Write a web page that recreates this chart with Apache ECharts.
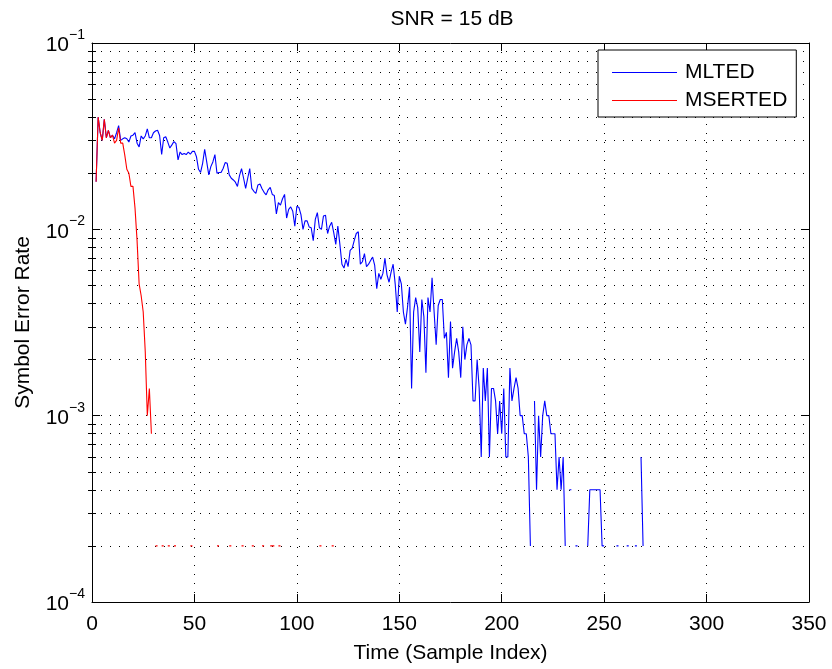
<!DOCTYPE html>
<html><head><meta charset="utf-8">
<script src="https://cdn.jsdelivr.net/npm/echarts@6/dist/echarts.min.js"></script>
<style>html,body{margin:0;padding:0;background:#fff}#c{width:832px;height:669px}</style>
</head><body><div id="c"></div>
<script>
const _ = null;
const chartTitle = 'SNR = 15 dB';
const xName = 'Time (Sample Index)';
const yName = 'Symbol Error Rate';
const seriesNames = ['MLTED', 'MSERTED'];
const xTicks = [0, 50, 100, 150, 200, 250, 300, 350];
const yMajorTicks = [1e-4, 1e-3, 1e-2, 1e-1];
const yMinorTicks = [2e-4,3e-4,4e-4,5e-4,6e-4,7e-4,8e-4,9e-4,
                     2e-3,3e-3,4e-3,5e-3,6e-3,7e-3,8e-3,9e-3,
                     2e-2,3e-2,4e-2,5e-2,6e-2,7e-2,8e-2,9e-2];

// sample index = position + 1
const mlted = [
 _, 0.018, 0.040, 0.033, 0.030, 0.039, 0.031, 0.034, 0.031, 0.032,
 0.0306, 0.033, 0.036, 0.030, 0.0306, 0.031, 0.0306, 0.0294, 0.0317, 0.032,
 0.033, 0.029, 0.0277, 0.0317, 0.0306, 0.0317, 0.0346, 0.031, 0.031, 0.033,
 0.0337, 0.034, 0.0319, 0.0252, 0.031, 0.0314, 0.0294, 0.0273, 0.0284, 0.0296,
 0.0288, 0.0236, 0.026, 0.0252, 0.0255, 0.0252, 0.026, 0.0253, 0.0262, 0.0262,
 0.0245, 0.021, 0.0202, 0.0226, 0.0269, 0.023, 0.0196, 0.0217, 0.023, 0.0252,
 0.020, 0.0202, 0.0202, 0.0212, 0.0228, 0.0226, 0.0196, 0.0188, 0.0184, 0.0179,
 0.017, 0.0194, 0.0212, 0.0188, 0.0166, 0.0188, 0.0212, 0.0166, 0.016, 0.0156,
 0.0173, 0.0175, 0.0165, 0.0158, 0.0153, 0.0163, 0.0168, 0.0154, 0.0152, 0.0121,
 0.0139, 0.0135, 0.0146, 0.0154, 0.0115, 0.0128, 0.0132, 0.0125, 0.0104, 0.0133,
 0.0131, 0.0120, 0.0100, 0.0111, 0.0111, 0.0103, 0.0102, 0.0087, 0.0113, 0.0123,
 0.0102, 0.0100, 0.0118, 0.0119, 0.0095, 0.0104, 0.0109, 0.0096, 0.0083, 0.0104,
 0.0083, 0.0065, 0.0062, 0.0069, 0.0063, 0.0077, 0.0079, 0.0087, 0.0095, 0.0097,
 0.0065, 0.0067, 0.0074, 0.0063, 0.0065, 0.0068, 0.0071, 0.0064, 0.0048, 0.0058,
 0.0054, 0.0058, 0.0070, 0.0057, 0.0052, 0.0059, 0.0065, 0.0051, 0.0036, 0.0056,
 0.0051, 0.0036, 0.0031, 0.0038, 0.0049, 0.0014, 0.0036, 0.0043, 0.0038, 0.0022,
 0.0042, 0.0034, 0.0017, 0.0043, 0.0036, 0.0055, 0.0036, 0.0024, 0.0039, 0.0042,
 0.0042, 0.0026, 0.0028, 0.0016, 0.0032, 0.0018, 0.0022, 0.0026, 0.0022, 0.0016,
 0.0030, 0.0020, 0.0024, 0.0026, 0.0024, 0.0012, 0.0012, 0.0020, 0.0014, 0.0006,
 0.0018, 0.0012, 0.0018, 0.0006, 0.0014, 0.0014, 0.0012, 0.0008, 0.0012, 0.0008,
 0.0014, 0.0006, 0.0006, 0.0018, 0.0012, 0.0014, 0.0016, 0.0014, 0.0010, 0.0010,
 0.0008, 0.0008, 0.0006, 0.0002, _, 0.0012, 0.0004, 0.0010, 0.0006, 0.0010,
 0.0012, 0.0010, 0.0010, 0.0008, 0.0008, 0.0008, 0.0004, 0.0006, 0.0004, 0.0006,
 0.0002, _, 0.0004, 0.0004, _, 0.0002, 0.0002, _, _, _,
 _, 0.0002, 0.0004, 0.0004, 0.0004, 0.0004, 0.0004, 0.0004, 0.0002, 0.0002,
 _, _, _, _, _, 0.0002, 0.0002, _, _, _,
 0.0002, 0.0002, _, _, 0.0002, 0.0002, _, 0.0006, 0.0002
];

const mserted = [
 _, 0.018, 0.040, 0.033, 0.030, 0.039, 0.031, 0.034, 0.031, 0.032,
 0.029, 0.030, 0.035, 0.029, 0.029, 0.025, 0.021, 0.020, 0.017, 0.017,
 0.013, 0.0087, 0.0051, 0.0044, 0.0036, 0.0022, 0.0010, 0.0014, 0.0008, _,
 0.0002, 0.0002, _, 0.0002, 0.0002, _, 0.0002, 0.0002, _, 0.0002,
 0.0002, _, _, _, _, _, _, 0.0002, 0.0002, _,
 _, _, _, _, _, _, _, _, _, _,
 0.0002, 0.0002, _, _, _, _, 0.0002, 0.0002, _, _,
 _, _, 0.0002, 0.0002, _, _, _, 0.0002, 0.0002, _,
 _, _, 0.0002, 0.0002, _, _, 0.0002, 0.0002, 0.0002, _,
 0.0002, 0.0002, _, _, _, _, _, _, _, _,
 _, _, _, _, _, _, _, _, _, _,
 0.0002, 0.0002, _, _, _, _, 0.0002, 0.0002
];

const FONT = "'Liberation Sans', Arial, Helvetica, sans-serif";
const dotted = { color: '#000', width: 1, type: [1, 8] };
const axisLineStyle = { color: '#000', width: 1 };

function toPairs(arr) { return arr.map((v, i) => [i + 1, v === null ? '-' : v]); }

function yLabel(v) {
  const e = Math.round(Math.log10(v));
  return '{b|10}{s|' + (e < 0 ? '\u2212' : '') + Math.abs(e) + '}';
}

const logBase = { type: 'log', logBase: 10, min: yMajorTicks[0], max: yMajorTicks[yMajorTicks.length - 1] };

const chart = echarts.init(document.getElementById('c'), null, { renderer: 'canvas' });
chart.setOption({
  animation: false,
  backgroundColor: '#fff',
  textStyle: { fontFamily: FONT },
  title: {
    text: chartTitle, left: 452, top: 9, padding: 0, textAlign: 'center',
    textStyle: { fontSize: 21, fontWeight: 'normal', color: '#000', fontFamily: FONT }
  },
  legend: {
    data: seriesNames, orient: 'vertical', left: 598, top: 50,
    icon: 'rect', itemWidth: 65, itemHeight: 1.2, itemGap: 7,
    padding: [12, 9, 6, 14],
    borderColor: '#000', borderWidth: 1, borderRadius: 0, backgroundColor: '#fff',
    textStyle: { fontSize: 21, color: '#000', fontFamily: FONT, padding: [0, 0, 0, 3] }
  },
  grid: { left: 92, right: 23, top: 43, bottom: 60, containLabel: false },
  xAxis: [
    {
      type: 'value', min: xTicks[0], max: xTicks[xTicks.length - 1], interval: 50, position: 'bottom',
      name: xName, nameLocation: 'middle', nameGap: 41,
      nameTextStyle: { fontSize: 21, color: '#000', fontFamily: FONT },
      axisLine: { show: true, onZero: false, lineStyle: axisLineStyle },
      axisTick: { show: true, inside: true, length: 8, lineStyle: axisLineStyle },
      axisLabel: { margin: 12, fontSize: 21, color: '#000', fontFamily: FONT },
      splitLine: { show: true, lineStyle: dotted }
    },
    {
      type: 'value', min: xTicks[0], max: xTicks[xTicks.length - 1], interval: 50, position: 'top',
      axisLine: { show: true, onZero: false, lineStyle: axisLineStyle },
      axisTick: { show: true, inside: true, length: 8, lineStyle: axisLineStyle },
      axisLabel: { show: false }, splitLine: { show: false }
    }
  ],
  yAxis: [
    Object.assign({}, logBase, {
      position: 'left',
      name: yName, nameLocation: 'middle', nameGap: 58,
      nameTextStyle: { fontSize: 21, color: '#000', fontFamily: FONT },
      axisLine: { show: true, onZero: false, lineStyle: axisLineStyle },
      axisTick: { show: true, inside: true, length: 8, lineStyle: axisLineStyle },
      axisLabel: {
        margin: 7, color: '#000', formatter: yLabel,
        rich: {
          b: { fontSize: 21, lineHeight: 21, fontFamily: FONT, color: '#000', padding: [7, 0, 2, 0] },
          s: { fontSize: 14, lineHeight: 14, fontFamily: FONT, color: '#000', padding: [0, 0, 16, 0] }
        }
      },
      splitLine: { show: true, lineStyle: dotted }
    }),
    Object.assign({}, logBase, {
      position: 'left',
      axisLine: { show: false },
      axisTick: { show: true, inside: true, length: 4, lineStyle: axisLineStyle, customValues: yMinorTicks },
      axisLabel: { show: false, customValues: yMinorTicks },
      splitLine: { show: true, lineStyle: dotted }
    }),
    Object.assign({}, logBase, {
      position: 'right',
      axisLine: { show: true, onZero: false, lineStyle: axisLineStyle },
      axisTick: { show: true, inside: true, length: 8, lineStyle: axisLineStyle },
      axisLabel: { show: false }, splitLine: { show: false }
    }),
    Object.assign({}, logBase, {
      position: 'right',
      axisLine: { show: false },
      axisTick: { show: true, inside: true, length: 4, lineStyle: axisLineStyle, customValues: yMinorTicks },
      axisLabel: { show: false, customValues: yMinorTicks }, splitLine: { show: false }
    })
  ],
  series: [
    {
      name: seriesNames[0], type: 'line', xAxisIndex: 0, yAxisIndex: 0,
      data: toPairs(mlted), symbol: 'none', showSymbol: false, connectNulls: false,
      lineStyle: { color: '#0000ff', width: 1.1 }, itemStyle: { color: '#0000ff' }, z: 3
    },
    {
      name: seriesNames[1], type: 'line', xAxisIndex: 0, yAxisIndex: 0,
      data: toPairs(mserted), symbol: 'none', showSymbol: false, connectNulls: false,
      lineStyle: { color: '#ff0000', width: 1.1 }, itemStyle: { color: '#ff0000' }, z: 4
    }
  ]
});
</script></body></html>
